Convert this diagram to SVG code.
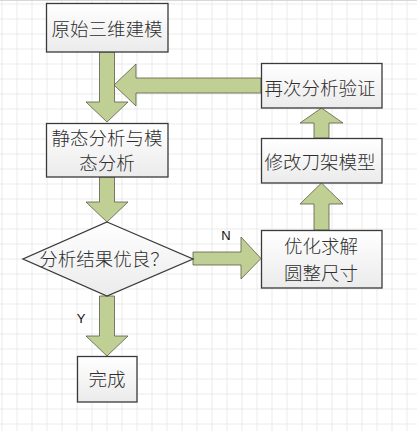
<svg xmlns="http://www.w3.org/2000/svg" width="417" height="431" viewBox="0 0 417 431">
<defs>
<pattern id="grid" x="1.5" y="3.5" width="15" height="15" patternUnits="userSpaceOnUse">
<path d="M0 0 H15 M0 0 V15" fill="none" stroke="#d8d8d8" stroke-width="1"/>
</pattern>
<linearGradient id="boxg" x1="0" y1="0" x2="0" y2="1">
<stop offset="0" stop-color="#ffffff"/>
<stop offset="1" stop-color="#ebebeb"/>
</linearGradient>
</defs>
<style>
.box{fill:url(#boxg);stroke:#3a3a3a;stroke-width:1.3}
.arr{fill:#c0d094;stroke:#5a5a4a;stroke-width:0.8;stroke-linejoin:miter}
.t{font-family:"Noto Sans CJK SC","Noto Sans CJK JP",sans-serif;font-size:18.5px;font-weight:300;fill:#2e2e2e;text-anchor:middle;dominant-baseline:central}
.l{font-family:"Liberation Sans",Arial,sans-serif;font-size:13px;fill:#111;text-anchor:middle;dominant-baseline:central}
</style>
<rect width="417" height="431" fill="#ffffff"/>
<rect width="417" height="431" fill="url(#grid)"/>
<line x1="0" y1="0.5" x2="417" y2="0.5" stroke="#d8d8d8"/>
<g id="connectors">
<polygon class="arr" points="99.5,52 114.5,52 114.5,102 128,102 107,122 86,102 99.5,102"/>
<polygon class="arr" points="261,78 261,93 136,93 136,106 114,85 136,64 136,78"/>
<polygon class="arr" points="99.5,177 114.5,177 114.5,202 128,202 107,222 86,202 99.5,202"/>
<polygon class="arr" points="193,252 241,252 241,237 261,258.5 241,279 241,265 193,265"/>
<polygon class="arr" points="99.5,296 114.5,296 114.5,336 128,336 107,356 86,336 99.5,336"/>
<polygon class="arr" points="314,138 329,138 329,123 343,123 321.5,108 300,123 314,123"/>
<polygon class="arr" points="314,230 329,230 329,204 343,204 321.5,183 300,204 314,204"/>
<text class="l" x="226" y="235">N</text>
<text class="l" x="81" y="318">Y</text>
</g>
<g id="n1"><rect class="box" x="46.5" y="3.5" width="121.5" height="48.5"/><text class="t" x="107" y="27.5">原始三维建模</text></g>
<g id="n2"><rect class="box" x="46.5" y="123.5" width="121.5" height="53.5"/><text class="t" x="107" y="137">静态分析与模</text><text class="t" x="107" y="162">态分析</text></g>
<g id="n3"><polygon class="box" points="107,222 193,259 107,296 23,259"/><text class="t" x="104" y="258">分析结果优良？</text></g>
<g id="n4"><rect class="box" x="261.5" y="230.5" width="120.5" height="57.5"/><text class="t" x="321" y="245">优化求解</text><text class="t" x="321" y="272">圆整尺寸</text></g>
<g id="n5"><rect class="box" x="261.5" y="138.5" width="120.5" height="44.5"/><text class="t" x="320" y="161">修改刀架模型</text></g>
<g id="n6"><rect class="box" x="261.5" y="63.5" width="120.5" height="44.5"/><text class="t" x="320" y="87">再次分析验证</text></g>
<g id="n7"><rect class="box" x="77.5" y="356.5" width="59.5" height="45.5"/><text class="t" x="107" y="378">完成</text></g>
</svg>
